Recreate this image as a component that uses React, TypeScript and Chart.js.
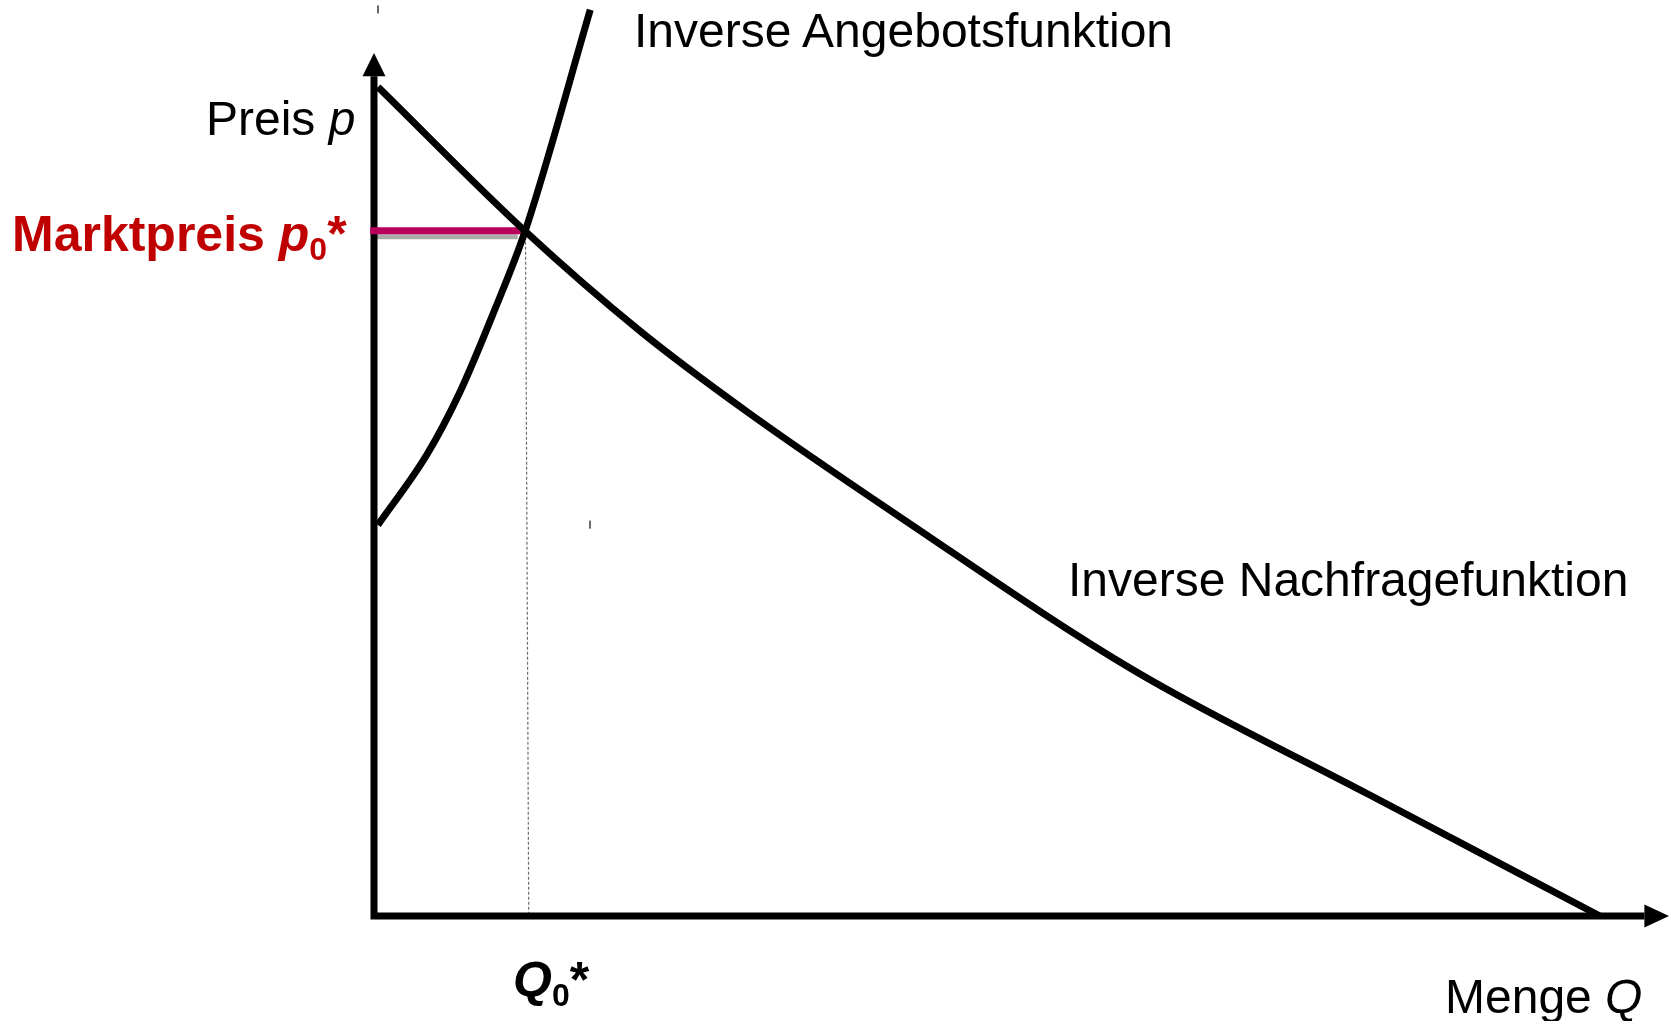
import React, { useEffect, useRef } from "react";
import { Chart, registerables } from "chart.js";

Chart.register(...registerables);

// Inverse demand curve (quantity Q, price p)
const demandQ = [0.31, 11.66, 20.54, 28.73, 40.62, 58.76, 76.6, 94.67];
const demandP = [96.06, 79.37, 67.79, 58.52, 46.23, 28.39, 14.25, 0];

// Inverse supply curve
const supplyQ = [0.3, 4.1, 6.6, 9.2, 11.7, 16.7];
const supplyP = [45.3, 53.5, 60.6, 69.8, 79.5, 105.0];

// Equilibrium
const marketPriceLineQ = [-0.3, 11.4];
const marketPrice = 79.4;
const shadowQ = [0.2, 11.1];
const shadowP = 78.7;
const equilibriumLineQ = [11.7, 11.95];

// Axis extents
const axisMaxQ = 100;
const axisMaxP = 100;
const arrowBaseQ = 98.1;
const arrowBaseP = 97.3;

// small stray marks in the source picture
const strayMarks = [
  { q: 0.31, p0: 105.5, p1: 104.6 },
  { q: 16.68, p0: 45.8, p1: 44.9 },
];

const W = 1672;
const H = 1021;
const FONT = '"Liberation Sans", Arial, Helvetica, sans-serif';

const pts = (xs: number[], ys: number[]) => xs.map((x, i) => ({ x, y: ys[i] }));

const arrowPlugin = {
  id: "arrows",
  afterDatasetsDraw(chart: any) {
    const { ctx, scales } = chart;
    const xs = scales.x;
    const ys = scales.y;
    ctx.save();
    ctx.fillStyle = "#000";
    const x0 = xs.getPixelForValue(0);
    const yTip = ys.getPixelForValue(axisMaxP);
    const yBase = ys.getPixelForValue(arrowBaseP);
    ctx.beginPath();
    ctx.moveTo(x0, yTip);
    ctx.lineTo(x0 - 11.5, yBase);
    ctx.lineTo(x0 + 11.5, yBase);
    ctx.closePath();
    ctx.fill();
    const y0 = ys.getPixelForValue(0);
    const xTip = xs.getPixelForValue(axisMaxQ);
    const xBase = xs.getPixelForValue(arrowBaseQ);
    ctx.beginPath();
    ctx.moveTo(xTip, y0);
    ctx.lineTo(xBase, y0 - 11.5);
    ctx.lineTo(xBase, y0 + 11.5);
    ctx.closePath();
    ctx.fill();
    ctx.restore();
  },
};

function Label(props: { left: number; baseline: number; size: number; bold?: boolean; color?: string; children: any }) {
  const { left, baseline, size, bold, color, children } = props;
  return (
    <div
      style={{
        position: "absolute",
        left,
        top: baseline - 0.8465 * size,
        fontFamily: FONT,
        fontSize: size,
        lineHeight: 1,
        fontWeight: bold ? 700 : 400,
        color: color || "#000",
        whiteSpace: "nowrap",
      }}
    >
      {children}
    </div>
  );
}

const Sub = (props: { children: any }) => (
  <span style={{ fontSize: "0.64em", position: "relative", top: "0.3em", fontStyle: "normal" }}>
    {props.children}
  </span>
);

export default function App() {
  const ref = useRef<HTMLCanvasElement | null>(null);

  useEffect(() => {
    document.documentElement.style.overflow = "hidden";
    document.body.style.overflow = "hidden";
    const canvas = ref.current;
    if (!canvas) return;

    const line = (data: any[], extra: any = {}) => ({
      data,
      showLine: true,
      pointRadius: 0,
      pointHoverRadius: 0,
      borderColor: "#000",
      borderWidth: 7,
      fill: false,
      clip: false,
      ...extra,
    });

    const strayData: any[] = [];
    strayMarks.forEach((m, i) => {
      if (i > 0) strayData.push({ x: null, y: null });
      strayData.push({ x: m.q, y: m.p0 }, { x: m.q, y: m.p1 });
    });

    const chart = new Chart(canvas, {
      type: "scatter",
      data: {
        datasets: [
          line(pts(demandQ, demandP), { cubicInterpolationMode: "monotone", order: 1 }),
          line(pts(supplyQ, supplyP), { cubicInterpolationMode: "monotone", order: 2 }),
          line(
            [
              { x: marketPriceLineQ[0], y: marketPrice },
              { x: marketPriceLineQ[1], y: marketPrice },
            ],
            { borderColor: "#B8005C", order: 3 }
          ),
          line(
            [
              { x: 0, y: arrowBaseP },
              { x: 0, y: 0 },
              { x: arrowBaseQ, y: 0 },
            ],
            { borderCapStyle: "butt", borderJoinStyle: "miter", order: 4 }
          ),
          line(
            [
              { x: shadowQ[0], y: shadowP },
              { x: shadowQ[1], y: shadowP },
            ],
            { borderColor: "#ABABAB", borderWidth: 5, order: 6 }
          ),
          line(
            [
              { x: equilibriumLineQ[0], y: shadowP },
              { x: equilibriumLineQ[1], y: 0 },
            ],
            { borderColor: "#6E6E6E", borderWidth: 1.2, borderDash: [3, 2], order: 5 }
          ),
          line(strayData, { borderColor: "#555", borderWidth: 1, spanGaps: false, order: 7 }),
        ],
      },
      options: {
        animation: false,
        responsive: false,
        maintainAspectRatio: false,
        devicePixelRatio: 1,
        events: [],
        layout: { padding: { left: 374, right: 3, top: 53, bottom: 105 } },
        plugins: { legend: { display: false }, tooltip: { enabled: false } },
        scales: {
          x: { type: "linear", min: 0, max: axisMaxQ, display: false },
          y: { type: "linear", min: 0, max: axisMaxP, display: false },
        },
      },
      plugins: [arrowPlugin],
    } as any);

    return () => chart.destroy();
  }, []);

  return (
    <div style={{ position: "absolute", left: 0, top: 0, width: W, height: H, overflow: "hidden", background: "#fff" }}>
      <canvas ref={ref} width={W} height={H} style={{ display: "block", width: W, height: H }} />
      <Label left={634} baseline={48} size={48}>Inverse Angebotsfunktion</Label>
      <Label left={1068} baseline={597} size={48}>Inverse Nachfragefunktion</Label>
      <Label left={206} baseline={136} size={48}>
        Preis <i>p</i>
      </Label>
      <Label left={12} baseline={251} size={50} bold color="#C00000">
        Marktpreis <i>p</i>
        <Sub>0</Sub>*
      </Label>
      <Label left={513} baseline={997} size={50} bold>
        <i>Q</i>
        <Sub>0</Sub>*
      </Label>
      <Label left={1445} baseline={1014} size={48}>
        Menge <i>Q</i>
      </Label>
    </div>
  );
}
